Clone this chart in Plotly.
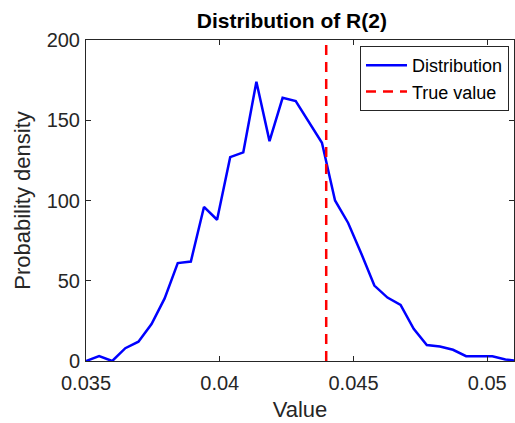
import numpy as np
import plotly.graph_objects as go

# Distribution curve (bin positions and density values)
x_start = 0.035
x_step = 0.00049
density = [0, 3, 0, 8, 12, 23, 39, 61, 62, 96, 88, 127, 130, 174, 137, 164, 162,
           149, 136, 100, 86, 67, 47, 39.5, 35, 20, 10, 9, 7, 3, 3, 3, 1, 0]
x_values = [x_start + i * x_step for i in range(len(density))]

true_value = 0.04398
y_range = [0, 200]
x_range = [0.035, 0.051]
x_tickvals = [0.035, 0.04, 0.045, 0.05]
x_ticktext = ["0.035", "0.04", "0.045", "0.05"]
y_tickvals = [0, 50, 100, 150, 200]

FONT = "Liberation Sans, Arial, sans-serif"
AX = "#262626"

fig = go.Figure()
fig.add_trace(go.Scatter(x=x_values, y=density, mode="lines", name="Distribution",
                         line=dict(color="#0000ff", width=2.5)))
fig.add_trace(go.Scatter(x=[true_value, true_value], y=y_range, mode="lines",
                         name="True value",
                         line=dict(color="#ff0000", width=2.5, dash="10px,7px")))

axis_common = dict(showline=True, linecolor=AX, linewidth=1, mirror="ticks",
                   ticks="inside", ticklen=5, tickcolor=AX, showgrid=False,
                   zeroline=False, tickfont=dict(family=FONT, size=20, color=AX))

fig.update_layout(
    width=515, height=423,
    margin=dict(l=86, r=1, t=40, b=62, autoexpand=False),
    paper_bgcolor="white", plot_bgcolor="white",
    title=dict(text="<b>Distribution of R(2)</b>", x=0.5667, xanchor="center",
               y=1 - 28 / 423, yanchor="bottom",
               font=dict(family=FONT, size=21, color="black")),
    xaxis=dict(range=x_range, tickvals=x_tickvals, ticktext=x_ticktext,
               ticklabelstandoff=4,
               title=dict(text="Value", standoff=8,
                          font=dict(family=FONT, size=22, color=AX)),
               **axis_common),
    yaxis=dict(range=y_range, tickvals=y_tickvals, ticklabelstandoff=1,
               title=dict(text="Probability density", standoff=9,
                          font=dict(family=FONT, size=22, color=AX)),
               **axis_common),
    legend=dict(x=0.9883, xanchor="right", y=0.9813, yanchor="top",
                bgcolor="white", bordercolor=AX, borderwidth=1,
                font=dict(family=FONT, size=18, color="black"),
                tracegroupgap=0, itemwidth=41),
    showlegend=True,
)

fig.write_html("out.html", config={"displayModeBar": False},
               post_script="document.body.style.margin='0';"
                           "document.body.style.overflow='hidden';")
